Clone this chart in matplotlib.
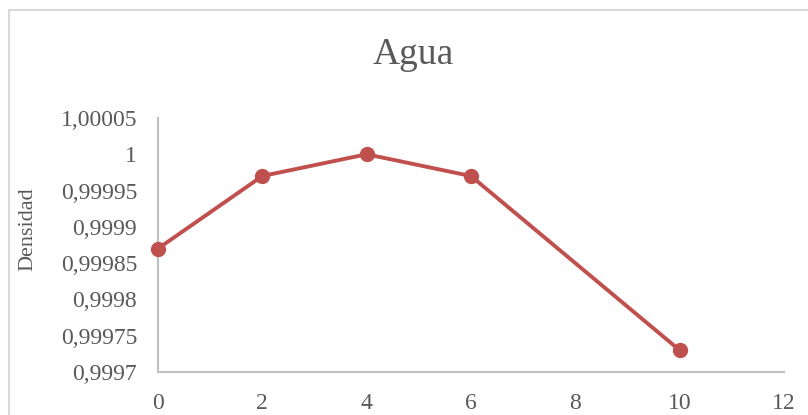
import matplotlib.pyplot as plt
from matplotlib.patches import Rectangle
from matplotlib.ticker import FuncFormatter

temperatura = [0, 2, 4, 6, 10]
densidad = [0.99987, 0.99997, 1.0, 0.99997, 0.99973]

x_ticks = [0, 2, 4, 6, 8, 10, 12]
y_ticks = [0.9997, 0.99975, 0.9998, 0.99985, 0.9999, 0.99995, 1.0, 1.00005]

gris = "#595959"
rojo = "#C0504D"

plt.rcParams["font.family"] = ["Liberation Serif", "DejaVu Serif"]

fig = plt.figure(figsize=(8.08, 4.15), dpi=100)
ax = fig.add_axes([0.1955, 0.1036, 0.7748, 0.6121])

ax.plot(temperatura, densidad, color=rojo, linewidth=2.8,
        marker="o", markersize=10, clip_on=False, zorder=3)

ax.set_xlim(0, 12)
ax.set_ylim(0.9997, 1.00005)
ax.set_xticks(x_ticks)
ax.set_yticks(y_ticks)


def coma(v, pos):
    s = ("%.5f" % v).rstrip("0").rstrip(".")
    return s.replace(".", ",")


ax.yaxis.set_major_formatter(FuncFormatter(coma))
ax.tick_params(length=0, labelsize=17, labelcolor=gris)
ax.tick_params(axis="x", pad=15)
ax.tick_params(axis="y", pad=15)

for lado in ["top", "right"]:
    ax.spines[lado].set_visible(False)
for lado in ["left", "bottom"]:
    ax.spines[lado].set_color("#BFBFBF")
    ax.spines[lado].set_linewidth(1.5)

fig.text(28 / 808, 1 - 229 / 415, "Densidad", rotation=90, fontsize=16,
         color=gris, ha="center", va="center")
fig.text(413 / 808, 1 - 55 / 415, "Agua", fontsize=27, color=gris,
         ha="center", va="center")

# marco del gráfico
fig.patches.append(Rectangle((8.5 / 808, -0.1), 1.2, (415 - 10.5) / 415 + 0.1,
                             transform=fig.transFigure, fill=False,
                             edgecolor="#D9D9D9", linewidth=1.5))

fig.savefig("out.png", dpi=100)
